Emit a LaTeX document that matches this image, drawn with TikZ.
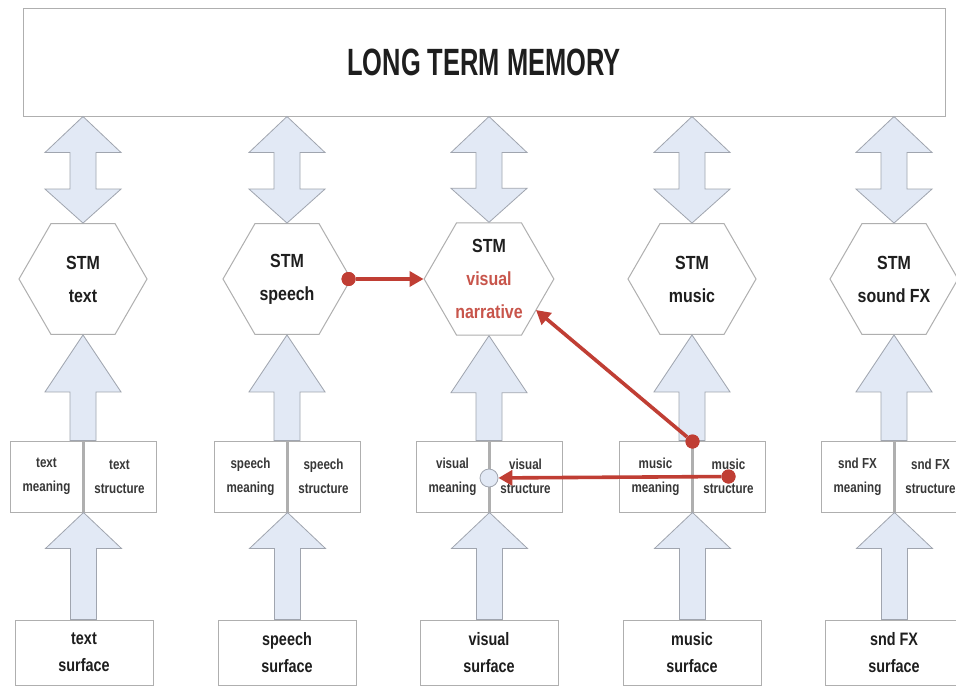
\documentclass[tikz,border=0pt]{standalone}
\usepackage{fontspec}
\usetikzlibrary{shapes.geometric,arrows.meta,calc}
\newfontfamily\capsfont[FakeStretch=0.67]{Liberation Sans Bold}
\newfontfamily\labfont[FakeStretch=0.8]{Liberation Sans Bold}
\newfontfamily\hexfont[FakeStretch=0.84]{Liberation Sans Bold}
\definecolor{arrfill}{RGB}{226,233,245}
\definecolor{arrline}{RGB}{160,165,175}
\definecolor{boxline}{RGB}{175,175,175}
\definecolor{redc}{RGB}{192,62,52}
\definecolor{redtext}{RGB}{200,85,75}
\definecolor{txt}{RGB}{30,30,30}
\newcommand\BlkUp[3]{\path[blk] (#1) -- ++(38,#3) -- ++(-25,0) -- ($(#1|-#2)+(13,0)$) -- ($(#1|-#2)+(-13,0)$) -- ($(#1)+(-13,#3)$) -- ($(#1)+(-38,#3)$) -- cycle;}
\newcommand\BlkBoth[2]{\path[blk] (#1) -- ($(#1)+(38,36)$) -- ($(#1)+(13,36)$) -- ($(#2)+(13,-34)$) -- ($(#2)+(38,-34)$) -- (#2) -- ($(#2)+(-38,-34)$) -- ($(#2)+(-13,-34)$) -- ($(#1)+(-13,36)$) -- ($(#1)+(-38,36)$) -- cycle;}
\begin{document}
\begin{tikzpicture}[x=1pt,y=-1pt,
  box/.style={draw=boxline, line width=1pt, fill=white, inner sep=0pt, text=txt, align=center},
  half/.style={box, minimum width=73pt, minimum height=71pt, font=\labfont\fontsize{14.5}{24}\selectfont, text={rgb,255:red,55;green,55;blue,55}},
  bot/.style={box, minimum width=138pt, minimum height=65pt, font=\labfont\fontsize{18}{27}\selectfont},
  hexa/.style={regular polygon, regular polygon sides=6, minimum size=128pt, draw=boxline, line width=1pt, fill=white, inner sep=0pt, align=center, text=txt, font=\hexfont\fontsize{19}{33}\selectfont},
  blk/.style={draw=arrline, fill=arrfill, line width=0.8pt, line join=miter},
  redarrow/.style={draw=redc, line width=3.6pt, -{Triangle[length=14pt,width=15pt]}},
  reddot/.style={circle, fill=redc, minimum size=14pt, inner sep=0pt},
  divider/.style={draw=boxline, line width=2.5pt}]
\useasboundingbox (0,0) rectangle (956,686);
\clip (0,0) rectangle (956,686);
\fill[white] (0,0) rectangle (956,686);

\node[box, minimum width=922pt, minimum height=108pt, font=\capsfont\fontsize{38}{38}\selectfont] (ltm) at (484,62) {LONG TERM MEMORY};

\node[hexa] (h1) at (83,279) {STM\\text};
\node[hexa] (h2) at (287,279) {STM\\speech};
\node[hexa] (h3) at (489,279) {STM\\\textcolor{redtext}{visual}\\\textcolor{redtext}{narrative}};
\node[hexa] (h4) at (692,279) {STM\\music};
\node[hexa] (h5) at (894,279) {STM\\sound FX};

\foreach \c/\i/\a/\b in {83/1/text/text, 287/2/speech/speech, 489/3/visual/visual, 692/4/music/music, 894/5/snd FX/snd FX}{
  \node[half] (ml\i) at (\c-36.5,476.5) {\a\\meaning};
  \node[half] (mr\i) at (\c+36.5,476.5) {\b\\structure};
  \draw[divider] (ml\i.north east) -- (ml\i.south east);
}

\node[bot] (b1) at (84,652.5) {text\\surface};
\node[bot] (b2) at (287,652.5) {speech\\surface};
\node[bot] (b3) at (489,652.5) {visual\\surface};
\node[bot] (b4) at (692,652.5) {music\\surface};
\node[bot] (b5) at (894,652.5) {snd FX\\surface};

\foreach \i in {1,...,5}{
  \coordinate (t\i) at (h\i.north |- ltm.south);
  \coordinate (u\i) at (h\i.north);
  \BlkBoth{t\i}{u\i}
  \coordinate (s\i) at (h\i.south);
  \coordinate (v\i) at (ml\i.north east);
  \BlkUp{s\i}{v\i}{57}
  \coordinate (w\i) at (ml\i.south east);
  \coordinate (x\i) at (b\i.north);
  \BlkUp{w\i}{x\i}{36}
}

\node[circle, draw=arrline, fill=arrfill, line width=0.8pt, minimum size=18pt, inner sep=0pt] (circ) at (489,478) {};

\node[reddot] (d1) at ($(h2.east)+(-3,0)$) {};
\node[reddot] (d2) at ($(ml4.north east)+(0,1)$) {};
\node[reddot] (d3) at (mr4.center) {};
\coordinate (n3) at ($(h3.center)+(47,31)$);

\draw[redarrow] (d1) -- (h3.west);
\draw[redarrow] (d2) -- (n3);
\draw[redarrow] (d3) -- (circ);
\node[reddot] at (d1) {};
\node[reddot] at (d2) {};
\node[reddot] at (d3) {};
\end{tikzpicture}
\end{document}
